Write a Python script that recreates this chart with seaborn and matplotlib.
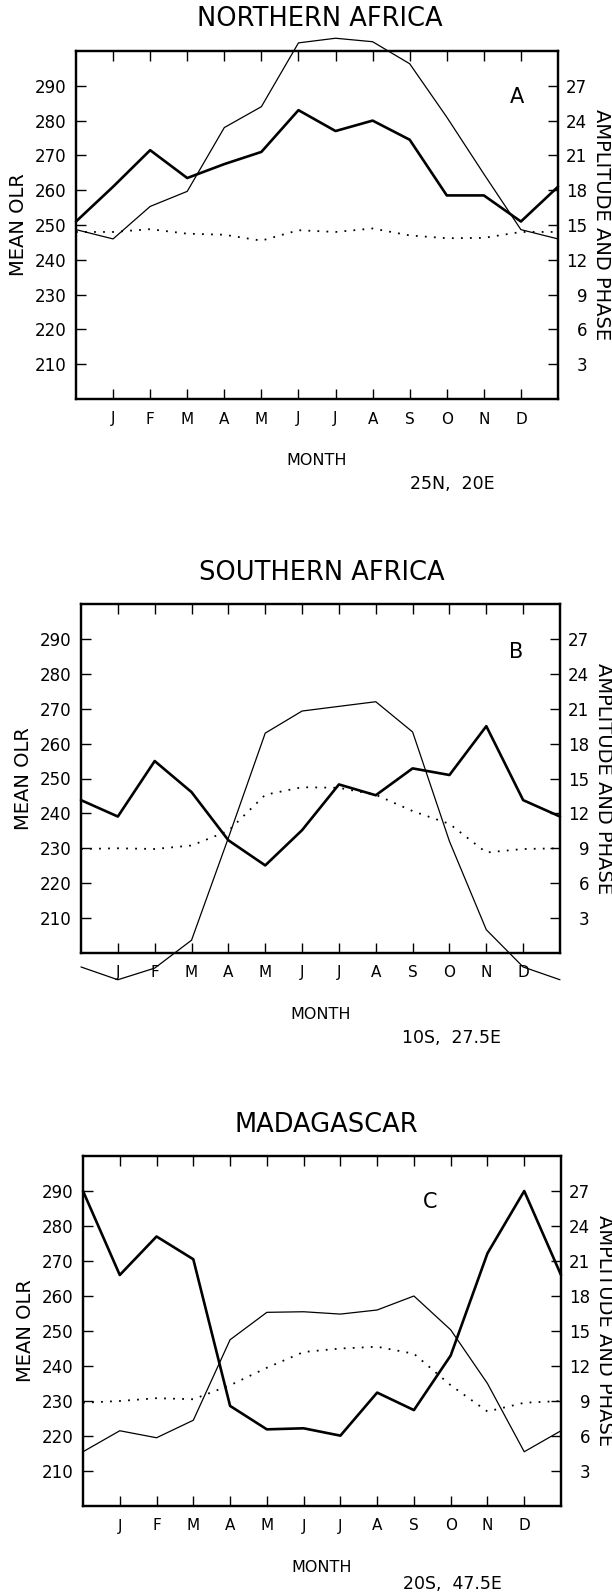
import numpy as np
import pandas as pd
import matplotlib
matplotlib.use("Agg")
import matplotlib.pyplot as plt
import seaborn as sns

sns.set_style("ticks")
plt.rcParams['font.family'] = ['DejaVu Sans']
plt.rcParams['text.color'] = 'black'
plt.rcParams['axes.labelcolor'] = 'black'
plt.rcParams['xtick.color'] = 'black'
plt.rcParams['ytick.color'] = 'black'

months = ["J", "F", "M", "A", "M", "J", "J", "A", "S", "O", "N", "D"]
left_ticks = [210, 220, 230, 240, 250, 260, 270, 280, 290]
right_ticks = [3, 6, 9, 12, 15, 18, 21, 24, 27]

titles = ["NORTHERN AFRICA", "SOUTHERN AFRICA", "MADAGASCAR"]
letters = ["A", "B", "C"]
locations = ["25N,  20E", "10S,  27.5E", "20S,  47.5E"]

# Mean OLR (left axis, W m-2)
olr_a = [261, 271.5, 263.5, 267.5, 271, 283, 277, 280, 274.5, 258.5, 258.5, 251]
olr_b = [239.1, 255, 246.1, 232.3, 225.1, 235.2, 248.3, 245.2, 252.9, 251, 265, 243.8]
olr_c = [266, 277, 270.5, 228.6, 221.9, 222.2, 220.1, 232.4, 227.4, 243, 272.2, 290]

# Amplitude (right axis units, thin solid)
amp_a = [13.8, 16.6, 17.9, 23.4, 25.2, 30.7, 31.1, 30.8, 28.9, 24.3, 19.4, 14.6]
amp_b = [-2.3, -1.3, 1.1, 9.9, 18.9, 20.8, 21.2, 21.6, 19.0, 9.6, 2.0, -1.2]
amp_c = [6.45, 5.85, 7.35, 14.25, 16.6, 16.65, 16.45, 16.8, 18.0, 15.1, 10.5, 4.65]

# Phase (right axis units, dotted)
pha_a = [14.4, 14.64, 14.25, 14.16, 13.65, 14.55, 14.4, 14.7, 14.1, 13.86, 13.89, 14.4]
pha_b = [9.0, 8.94, 9.24, 10.5, 13.6, 14.25, 14.2, 13.6, 12.2, 11.1, 8.64, 8.94]
pha_c = [9.0, 9.24, 9.15, 10.35, 11.85, 13.2, 13.5, 13.65, 13.05, 10.35, 8.1, 8.85]

olr = [olr_a, olr_b, olr_c]
amp = [amp_a, amp_b, amp_c]
pha = [pha_a, pha_b, pha_c]

W, H = 612, 1596
fig = plt.figure(figsize=(W / 100, H / 100), dpi=100)

# axes boxes in pixel coords (left, top, right, bottom)
boxes = [(76, 51, 558, 399), (81, 604, 560, 953), (83, 1156, 561, 1506)]
title_y = [19, 573, 1125]
title_x = [320, 322, 326]
loc_offset = [85, 85, 78]
letter_pos = [(11.9, 286.8), (11.8, 286.2), (9.45, 286.9)]


def periodic(vals):
    # wrap: previous December at x=0, next January at x=13
    x = np.arange(0, 14)
    y = [vals[-1]] + list(vals) + [vals[0]]
    return pd.DataFrame({"x": x, "y": y})


for i in range(3):
    l, t, r, b = boxes[i]
    ax = fig.add_axes([l / W, 1 - b / H, (r - l) / W, (b - t) / H])
    ax2 = ax.twinx()

    sns.lineplot(data=periodic(olr[i]), x="x", y="y", ax=ax, color="black",
                 linewidth=1.9, clip_on=False)
    sns.lineplot(data=periodic(amp[i]), x="x", y="y", ax=ax2, color="black",
                 linewidth=0.9, clip_on=False)
    sns.lineplot(data=periodic(pha[i]), x="x", y="y", ax=ax2, color="black",
                 linewidth=1.3, linestyle=(0, (1, 4)), clip_on=False)

    ax.set_xlim(0, 13)
    ax.set_ylim(200, 300)
    ax2.set_ylim(0, 30)

    ax.set_xticks(range(1, 13))
    ax.set_xticklabels(months, fontsize=11)
    ax.set_yticks(left_ticks)
    ax.set_yticklabels([str(v) for v in left_ticks], fontsize=12)
    ax2.set_yticks(right_ticks)
    ax2.set_yticklabels([str(v) for v in right_ticks], fontsize=12, ha="right")

    ax.tick_params(axis="x", direction="in", length=7, width=1.0, top=True,
                   bottom=True, pad=9)
    ax.tick_params(axis="y", direction="in", length=7, width=1.0, pad=7)
    ax2.tick_params(axis="y", direction="in", length=7, width=1.0, pad=21)

    for a in (ax, ax2):
        for s in a.spines.values():
            s.set_linewidth(1.6)
            s.set_color("black")
            s.set_visible(True)

    ax.set_xlabel("MONTH", fontsize=11.5, labelpad=19)
    ax.set_ylabel("MEAN OLR", fontsize=14, labelpad=5)
    ax2.set_ylabel("AMPLITUDE AND PHASE", fontsize=14, rotation=270,
                   labelpad=17)

    ax.text(letter_pos[i][0], letter_pos[i][1], letters[i], fontsize=15,
            ha="center", va="center")

    fig.text(title_x[i] / W, 1 - title_y[i] / H, titles[i], fontsize=18.5,
             ha="center", va="center")
    fig.text(452 / W, 1 - (b + loc_offset[i]) / H, locations[i], fontsize=12.5,
             ha="center", va="center")

fig.savefig("out.png", dpi=100, facecolor="white")
